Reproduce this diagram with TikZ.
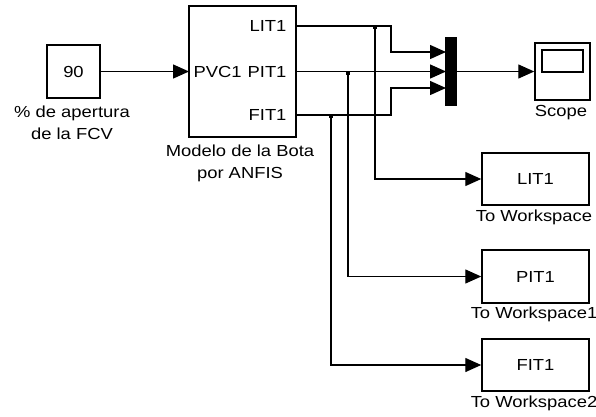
\documentclass[tikz,border=0pt]{standalone}
\usepackage{fontspec}
\setmainfont{Liberation Sans}[FakeStretch=1.15]
\usetikzlibrary{arrows.meta}
\begin{document}
\begin{tikzpicture}[x=1pt,y=-1pt,
  font=\fontsize{16}{22}\selectfont,
  blk/.style={draw, line width=1.5pt, inner sep=0pt},
  wire/.style={line width=1.4pt},
  arr/.style={wire,-{Triangle[length=16pt,width=14pt]}},
  jdot/.style={fill, minimum size=3.5pt, inner sep=0pt},
  lbl/.style={align=center, inner sep=0pt}
]
\useasboundingbox (0,0) rectangle (596,416);

% blocks
\node[blk, minimum width=53pt, minimum height=53pt] (c) at (73.5,71.5) {90};
\node[blk, minimum width=107pt, minimum height=131pt] (model) at (242.5,71.5) {};
\node[blk, fill=black, minimum width=10pt, minimum height=68pt] (mux) at (451,71.5) {};
\node[blk, minimum width=55pt, minimum height=57pt] (scope) at (562.5,71.5) {};
\draw[line width=1.5pt] (542,50) rectangle (583,72);
\node[blk, minimum width=107pt, minimum height=52pt] (ws1) at (535.5,179) {LIT1};
\node[blk, minimum width=107pt, minimum height=53pt] (ws2) at (535.5,276.5) {PIT1};
\node[blk, minimum width=107pt, minimum height=52pt] (ws3) at (535.5,365) {FIT1};

% labels
\node[lbl] (clab) at (72,123) {\% de apertura\\de la FCV};
\node[lbl] (mlab) at (240,163) {Modelo de la Bota\\por ANFIS};
\node[lbl] (slab) at (561,113) {Scope};
\node[lbl] (w1lab) at (534,217) {To Workspace};
\node[lbl] (w2lab) at (534,314) {To Workspace1};
\node[lbl] (w3lab) at (534,403) {To Workspace2};

% ports
\coordinate (pL) at (296,26);
\coordinate (pP) at (296,71.5);
\coordinate (pF) at (296,115);
\coordinate (pV) at (189,71.5);
\node[left=6pt] (tL) at (pL) {LIT1};
\node[left=6pt] (tP) at (pP) {PIT1};
\node[left=6pt] (tF) at (pF) {FIT1};
\node[right=1pt] (tV) at (pV) {PVC1};

% mux inputs
\coordinate (m1) at (446,52);
\coordinate (m2) at (446,71.5);
\coordinate (m3) at (446,88);
\coordinate (bL) at (375,26);
\coordinate (bP) at (348,71.5);
\coordinate (bF) at (331,115);

% wires
\draw[arr] (c) -- (pV);
\draw[arr] (pL) -- (391,26) -- (391,52) -- (m1);
\draw[arr] (pP) -- (m2);
\draw[arr] (pF) -- (391,115) -- (391,88) -- (m3);
\draw[arr] (mux) -- (scope);
\draw[arr] (bL) |- (ws1.west);
\draw[arr] (bP) |- (ws2.west);
\draw[arr] (bF) |- (ws3.west);
\node[jdot] (dL) at (375,27.5) {};
\node[jdot] (dP) at (348,73) {};
\node[jdot] (dF) at (331,116.5) {};
\end{tikzpicture}
\end{document}
